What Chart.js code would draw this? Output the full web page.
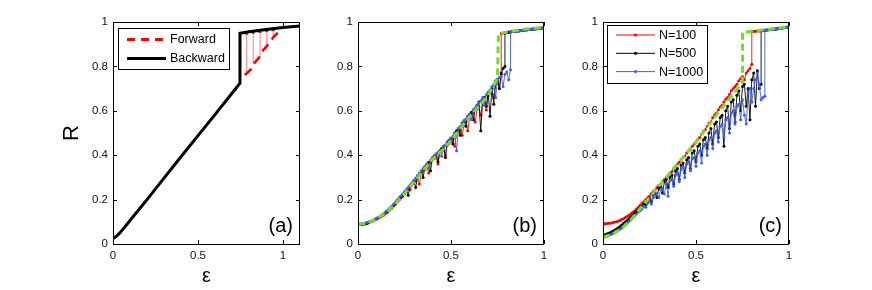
<!DOCTYPE html>
<html>
<head>
<meta charset="utf-8">
<script src="https://cdn.jsdelivr.net/npm/chart.js@4.4.1/dist/chart.umd.min.js"></script>
<style>
body { margin: 0; background: #fff; width: 872px; height: 290px; position: relative; overflow: hidden; }
canvas { position: absolute; top: 0; }
</style>
</head>
<body>
<canvas id="chartA" width="275" height="290" style="left:40px"></canvas>
<canvas id="chartB" width="240" height="290" style="left:320px"></canvas>
<canvas id="chartC" width="240" height="290" style="left:565px"></canvas>
<script>
//(a) backward branch, forward branch, jumps between them
var bwdEps = [0, 0.02, 0.04, 0.06, 0.08, 0.1, 0.2, 0.3, 0.4, 0.5, 0.6, 0.7, 0.747, 0.747, 0.8, 0.9, 1.0, 1.1];
var bwdR   = [0.025, 0.035, 0.05, 0.068, 0.087, 0.106, 0.2, 0.297, 0.393, 0.488, 0.583, 0.679, 0.724, 0.949, 0.956, 0.966, 0.975, 0.982];
var fwdEps = [0.776, 0.816, 0.83, 0.865, 0.884, 0.914, 0.943, 0.972];
var fwdR   = [0.761, 0.79, 0.814, 0.845, 0.874, 0.9, 0.931, 0.954];
var jumpEps  = [0.786, 0.825, 0.865, 0.904, 0.943];
var jumpLow  = [0.769, 0.814, 0.844, 0.874, 0.935];
var jumpHigh = [0.948, 0.952, 0.956, 0.96, 0.964];

//coupling values of the simulated runs
var epsN = [0, 0.01, 0.02, 0.03, 0.04, 0.05, 0.06, 0.07, 0.08, 0.09,
	0.10, 0.11, 0.12, 0.13, 0.14, 0.15, 0.16, 0.17, 0.18, 0.19,
	0.20, 0.21, 0.22, 0.23, 0.24, 0.25, 0.26, 0.27, 0.28, 0.29,
	0.30, 0.31, 0.32, 0.33, 0.34, 0.35, 0.36, 0.37, 0.38, 0.39,
	0.40, 0.41, 0.42, 0.43, 0.44, 0.45, 0.46, 0.47, 0.48, 0.49,
	0.50, 0.51, 0.52, 0.53, 0.54, 0.55, 0.56, 0.57, 0.58, 0.59,
	0.60, 0.61, 0.62, 0.63, 0.64, 0.65, 0.66, 0.67, 0.68, 0.69,
	0.70, 0.71, 0.72, 0.73, 0.74, 0.75, 0.76, 0.77, 0.78, 0.79,
	0.80, 0.81, 0.82, 0.83, 0.84, 0.85, 0.86, 0.87, 0.88];
//upper (synchronized) branch after the jump
var upEps = [0.76, 0.77, 0.78, 0.79, 0.80, 0.81, 0.82, 0.83, 0.84, 0.85, 0.86, 0.87, 0.88,
	0.89, 0.90, 0.91, 0.92, 0.93, 0.94, 0.95, 0.96, 0.97, 0.98, 0.99, 1.0];

//(b)
var bRed = [0.088, 0.088, 0.087, 0.089, 0.09, 0.092, 0.097, 0.1, 0.104, 0.108,
	0.113, 0.117, 0.121, 0.127, 0.131, 0.139, 0.145, 0.153, 0.16, 0.17,
	0.178, 0.19, 0.197, 0.207, 0.214, 0.226, 0.235, 0.247, 0.244, 0.266,
	0.275, 0.284, 0.296, 0.27, 0.318, 0.33, 0.335, 0.348, 0.32, 0.368,
	0.378, 0.385, 0.392, 0.36, 0.41, 0.418, 0.425, 0.4, 0.445, 0.453,
	0.462, 0.472, 0.44, 0.495, 0.505, 0.516, 0.49, 0.538, 0.549, 0.51,
	0.57, 0.58, 0.588, 0.55, 0.607, 0.617, 0.58, 0.637, 0.648, 0.604,
	0.668, 0.68, 0.695, 0.66, 0.72, 0.735, 0.7, 0.765];
var bBlack = [0.089, 0.09, 0.09, 0.092, 0.094, 0.095, 0.099, 0.102, 0.105, 0.11,
	0.114, 0.119, 0.124, 0.129, 0.135, 0.142, 0.15, 0.158, 0.166, 0.174,
	0.183, 0.193, 0.202, 0.212, 0.222, 0.231, 0.242, 0.22, 0.262, 0.272,
	0.283, 0.255, 0.305, 0.316, 0.327, 0.3, 0.347, 0.358, 0.368, 0.33,
	0.388, 0.397, 0.405, 0.37, 0.42, 0.43, 0.44, 0.39, 0.46, 0.468,
	0.478, 0.45, 0.5, 0.51, 0.52, 0.49, 0.545, 0.555, 0.53, 0.576,
	0.585, 0.594, 0.56, 0.612, 0.625, 0.64, 0.51, 0.65, 0.66, 0.62,
	0.68, 0.575, 0.7, 0.63, 0.735, 0.74, 0.7, 0.77, 0.79, 0.8];
var bBlue = [0.09, 0.089, 0.091, 0.092, 0.095, 0.097, 0.1, 0.103, 0.107, 0.111,
	0.116, 0.121, 0.126, 0.132, 0.138, 0.146, 0.153, 0.161, 0.17, 0.178,
	0.188, 0.197, 0.207, 0.216, 0.226, 0.236, 0.246, 0.256, 0.265, 0.276,
	0.287, 0.297, 0.308, 0.318, 0.33, 0.34, 0.35, 0.36, 0.342, 0.378,
	0.387, 0.395, 0.404, 0.412, 0.42, 0.395, 0.438, 0.447, 0.456, 0.466,
	0.475, 0.487, 0.498, 0.42, 0.52, 0.53, 0.543, 0.553, 0.563, 0.575,
	0.585, 0.56, 0.605, 0.613, 0.625, 0.635, 0.645, 0.66, 0.625, 0.672,
	0.685, 0.693, 0.71, 0.72, 0.66, 0.742, 0.75, 0.755, 0.71, 0.765,
	0.775, 0.74, 0.785];
var bUp = [0.946, 0.948, 0.95, 0.951, 0.953, 0.954, 0.955, 0.957, 0.958, 0.959, 0.96, 0.961, 0.962,
	0.963, 0.964, 0.965, 0.966, 0.967, 0.968, 0.969, 0.97, 0.971, 0.972, 0.973, 0.974];
var bGreenEps = [0, 0.05, 0.1, 0.15, 0.2, 0.25, 0.3, 0.35, 0.4, 0.45, 0.5, 0.55, 0.6, 0.65, 0.7, 0.75, 0.755, 0.8, 0.85, 0.9, 0.95, 1.0];
var bGreen    = [0.088, 0.095, 0.113, 0.14, 0.18, 0.228, 0.278, 0.33, 0.38, 0.42, 0.465, 0.52, 0.573, 0.62, 0.67, 0.745, 0.945, 0.955, 0.962, 0.968, 0.972, 0.975];

//(c)
var cRed = [0.092, 0.091, 0.092, 0.093, 0.094, 0.096, 0.098, 0.1, 0.103, 0.106,
	0.11, 0.114, 0.119, 0.124, 0.13, 0.136, 0.143, 0.15, 0.158, 0.166,
	0.174, 0.183, 0.19, 0.2, 0.21, 0.216, 0.227, 0.236, 0.243, 0.254,
	0.263, 0.27, 0.282, 0.291, 0.297, 0.31, 0.32, 0.326, 0.34, 0.35,
	0.36, 0.368, 0.38, 0.39, 0.395, 0.41, 0.42, 0.425, 0.44, 0.45,
	0.46, 0.472, 0.48, 0.496, 0.508, 0.515, 0.532, 0.545, 0.55, 0.57,
	0.582, 0.59, 0.605, 0.617, 0.625, 0.64, 0.652, 0.66, 0.675, 0.69,
	0.7, 0.71, 0.72, 0.735, 0.745, 0.755, 0.74, 0.77, 0.78, 0.79,
	0.81];
var cBlack = [0.04, 0.042, 0.045, 0.048, 0.052, 0.056, 0.061, 0.066, 0.072, 0.078,
	0.085, 0.092, 0.099, 0.106, 0.114, 0.122, 0.13, 0.138, 0.146, 0.155,
	0.164, 0.17, 0.18, 0.175, 0.198, 0.205, 0.19, 0.222, 0.23, 0.21,
	0.25, 0.26, 0.23, 0.28, 0.29, 0.255, 0.3, 0.31, 0.27, 0.33,
	0.34, 0.29, 0.355, 0.365, 0.32, 0.38, 0.39, 0.34, 0.41, 0.42,
	0.37, 0.44, 0.45, 0.4, 0.47, 0.48, 0.43, 0.5, 0.52, 0.45,
	0.54, 0.55, 0.48, 0.57, 0.58, 0.44, 0.6, 0.62, 0.52, 0.64,
	0.65, 0.55, 0.67, 0.69, 0.6, 0.71, 0.72, 0.62, 0.7, 0.56,
	0.74, 0.77, 0.62, 0.78, 0.7, 0.72];
var cBlue = [0.03, 0.032, 0.035, 0.038, 0.042, 0.046, 0.05, 0.055, 0.06, 0.066,
	0.072, 0.079, 0.086, 0.094, 0.102, 0.11, 0.118, 0.126, 0.135, 0.144,
	0.15, 0.158, 0.17, 0.165, 0.185, 0.192, 0.18, 0.21, 0.22, 0.228,
	0.21, 0.245, 0.25, 0.225, 0.27, 0.215, 0.285, 0.29, 0.26, 0.31,
	0.32, 0.28, 0.335, 0.345, 0.3, 0.36, 0.37, 0.33, 0.385, 0.39,
	0.35, 0.41, 0.42, 0.365, 0.44, 0.45, 0.4, 0.47, 0.48, 0.43,
	0.5, 0.51, 0.46, 0.53, 0.54, 0.48, 0.56, 0.57, 0.5, 0.59,
	0.6, 0.54, 0.62, 0.63, 0.56, 0.65, 0.58, 0.54, 0.68, 0.7,
	0.64, 0.7, 0.74, 0.77, 0.72, 0.65, 0.66, 0.665];
var cUp = [0.952, 0.953, 0.954, 0.955, 0.956, 0.957, 0.958, 0.959, 0.96, 0.961, 0.962, 0.963, 0.964,
	0.965, 0.966, 0.967, 0.968, 0.969, 0.97, 0.971, 0.972, 0.974, 0.975, 0.976, 0.978];
var cGreenEps = [0, 0.05, 0.1, 0.15, 0.2, 0.25, 0.3, 0.35, 0.4, 0.45, 0.5, 0.55, 0.6, 0.65, 0.7, 0.75, 0.75, 0.8, 0.85, 0.9, 0.95, 1.0];
var cGreen    = [0.03, 0.045, 0.07, 0.11, 0.16, 0.21, 0.26, 0.31, 0.36, 0.41, 0.46, 0.515, 0.57, 0.625, 0.675, 0.73, 0.954, 0.958, 0.963, 0.968, 0.973, 0.978];

var yTicks = [0, 0.2, 0.4, 0.6, 0.8, 1];

var FONT = '"Liberation Sans", Arial, Helvetica, sans-serif';
var RED = '#ff0000', BLACK = '#000000', BLUE = '#3a5cff', GREEN = '#6ee31c';

function toPts(xs, ys){
	var out = [];
	for(var i = 0; i < ys.length; i++){
		out.push({x: xs[i], y: ys[i]});
	}
	return out;
}

//noisy run + vertical jump + upper branch
function runPts(vals, up){
	var out = toPts(epsN, vals);
	var last = epsN[vals.length - 1];
	for(var j = 0; j < upEps.length; j++){
		if(upEps[j] >= last - 1e-9){
			out.push({x: upEps[j], y: up[j]});
		}
	}
	return out;
}

function jumpPts(){
	var out = [];
	for(var i = 0; i < jumpEps.length; i++){
		out.push({x: jumpEps[i], y: jumpLow[i]});
		out.push({x: jumpEps[i], y: jumpHigh[i], top: true});
		out.push({x: jumpEps[i], y: null});
	}
	return out;
}

function runSet(label, color, data){
	return {
		label: label, data: data,
		borderColor: color, backgroundColor: color,
		borderWidth: 0.9, tension: 0,
		pointRadius: 1.5, pointBorderWidth: 0, pointBackgroundColor: color, pointHoverRadius: 0
	};
}

function greenSet(data){
	return {
		label: 'theory', data: data,
		borderColor: GREEN, borderWidth: 3, borderDash: [7, 4],
		pointRadius: 0, tension: 0
	};
}

//frame, inner ticks, panel tag and legend box
var panelDeco = {
	id: 'panelDeco',
	afterDatasetsDraw: function(chart, args, opts){
		var ctx = chart.ctx, a = chart.chartArea;
		var sx = chart.scales.x, sy = chart.scales.y;
		ctx.save();
		ctx.strokeStyle = '#000';
		ctx.lineWidth = 1;
		ctx.setLineDash([]);
		ctx.strokeRect(a.left + 0.5, a.top + 0.5, a.right - a.left - 1, a.bottom - a.top);

		ctx.beginPath();
		sx.ticks.forEach(function(t){
			var px = Math.round(sx.getPixelForValue(t.value)) + 0.5;
			ctx.moveTo(px, a.bottom); ctx.lineTo(px, a.bottom - 4);
			ctx.moveTo(px, a.top); ctx.lineTo(px, a.top + 4);
		});
		sy.ticks.forEach(function(t){
			var py = Math.round(sy.getPixelForValue(t.value)) + 0.5;
			ctx.moveTo(a.left, py); ctx.lineTo(a.left + 4, py);
			ctx.moveTo(a.right, py); ctx.lineTo(a.right - 4, py);
		});
		ctx.stroke();

		ctx.fillStyle = '#000';
		ctx.font = '20px ' + FONT;
		ctx.textAlign = 'right';
		ctx.textBaseline = 'middle';
		ctx.fillText(opts.tag, a.right - 7, a.bottom - 18);

		var lg = opts.legend;
		if(lg){
			var bx = Math.round(a.left + lg.x), by = Math.round(a.top + lg.y);
			ctx.fillStyle = '#fff';
			ctx.fillRect(bx, by, lg.w, lg.h);
			ctx.strokeStyle = '#000';
			ctx.lineWidth = 1;
			ctx.strokeRect(bx + 0.5, by + 0.5, lg.w, lg.h);
			ctx.font = '12.5px ' + FONT;
			ctx.textAlign = 'left';
			lg.items.forEach(function(it, i){
				var yy = by + lg.row0 + i * lg.rowGap;
				ctx.strokeStyle = it.color;
				ctx.lineWidth = it.width;
				ctx.setLineDash(it.dash || []);
				ctx.beginPath();
				ctx.moveTo(bx + 9, yy); ctx.lineTo(bx + 48, yy);
				ctx.stroke();
				ctx.setLineDash([]);
				if(it.dot){
					ctx.fillStyle = it.color;
					ctx.beginPath();
					ctx.arc(bx + 28.5, yy, 1.6, 0, Math.PI * 2);
					ctx.fill();
				}
				ctx.fillStyle = '#000';
				ctx.fillText(it.label, bx + 52, yy + 0.5);
			});
		}
		ctx.restore();
	}
};

function tickFmt(v){
	return String(Math.round(v * 10) / 10);
}

function makePanel(id, xMax, yWidth, padRight, yTitle, datasets, deco){
	return new Chart(document.getElementById(id), {
		type: 'line',
		data: { datasets: datasets },
		options: {
			responsive: false,
			animation: false,
			layout: { padding: { top: 22, right: padRight, bottom: 0, left: 0 } },
			plugins: { legend: { display: false }, tooltip: { enabled: false }, panelDeco: deco },
			scales: {
				x: {
					type: 'linear', min: 0, max: xMax,
					grid: { display: false, drawTicks: false }, border: { display: false },
					ticks: { stepSize: 0.5, includeBounds: false, padding: 5, maxRotation: 0, color: '#111',
						font: { family: FONT, size: 11.5 }, callback: tickFmt },
					title: { display: true, text: 'ε', color: '#000', font: { family: FONT, size: 20 }, padding: { top: 0, bottom: 2 } },
					afterFit: function(s){ s.height = 46; }
				},
				y: {
					type: 'linear', min: 0, max: 1,
					grid: { display: false, drawTicks: false }, border: { display: false },
					afterBuildTicks: function(s){ s.ticks = yTicks.map(function(v){ return { value: v }; }); },
					ticks: { padding: 5, color: '#111', font: { family: FONT, size: 11.5 }, callback: tickFmt },
					title: { display: !!yTitle, text: yTitle || '', color: '#000', font: { family: FONT, size: 22 }, padding: { top: 19, bottom: 0 } },
					afterFit: function(s){ s.width = yWidth; }
				}
			}
		},
		plugins: [panelDeco]
	});
}

//(a)
makePanel('chartA', 1.1, 73, 15, 'R', [
	{ label: 'Backward', data: toPts(bwdEps, bwdR), borderColor: BLACK, borderWidth: 3, pointRadius: 0, tension: 0 },
	{ label: 'Forward', data: toPts(fwdEps, fwdR), borderColor: RED, borderWidth: 2.6, borderDash: [9, 6], pointRadius: 0, tension: 0 },
	{ label: 'jumps', data: jumpPts(), borderColor: 'rgba(255,60,60,0.55)', borderWidth: 1.2, tension: 0,
	  pointStyle: 'triangle', pointBackgroundColor: 'rgb(150,70,70)', pointBorderWidth: 0,
	  pointRadius: function(c){ return c.raw && c.raw.top ? 2.3 : 0; } }
], {
	tag: '(a)',
	legend: { x: 5, y: 6, w: 111, h: 41, row0: 11.5, rowGap: 19, items: [
		{ label: 'Forward', color: RED, width: 3, dash: [8, 6] },
		{ label: 'Backward', color: BLACK, width: 3 }
	] }
});

//(b)
makePanel('chartB', 1, 38, 16, null, [
	greenSet(toPts(bGreenEps, bGreen)),
	runSet('N=1000', BLUE, runPts(bBlue, bUp)),
	runSet('N=500', BLACK, runPts(bBlack, bUp)),
	runSet('N=100', RED, runPts(bRed, bUp))
], { tag: '(b)' });

//(c)
makePanel('chartC', 1, 38, 16, null, [
	greenSet(toPts(cGreenEps, cGreen)),
	runSet('N=1000', BLUE, runPts(cBlue, cUp)),
	runSet('N=500', BLACK, runPts(cBlack, cUp)),
	runSet('N=100', RED, runPts(cRed, cUp))
], {
	tag: '(c)',
	legend: { x: 4, y: 3, w: 100, h: 58, row0: 10, rowGap: 18.3, items: [
		{ label: 'N=100', color: RED, width: 1, dot: true },
		{ label: 'N=500', color: BLACK, width: 1, dot: true },
		{ label: 'N=1000', color: BLUE, width: 1, dot: true }
	] }
});
</script>
</body>
</html>
